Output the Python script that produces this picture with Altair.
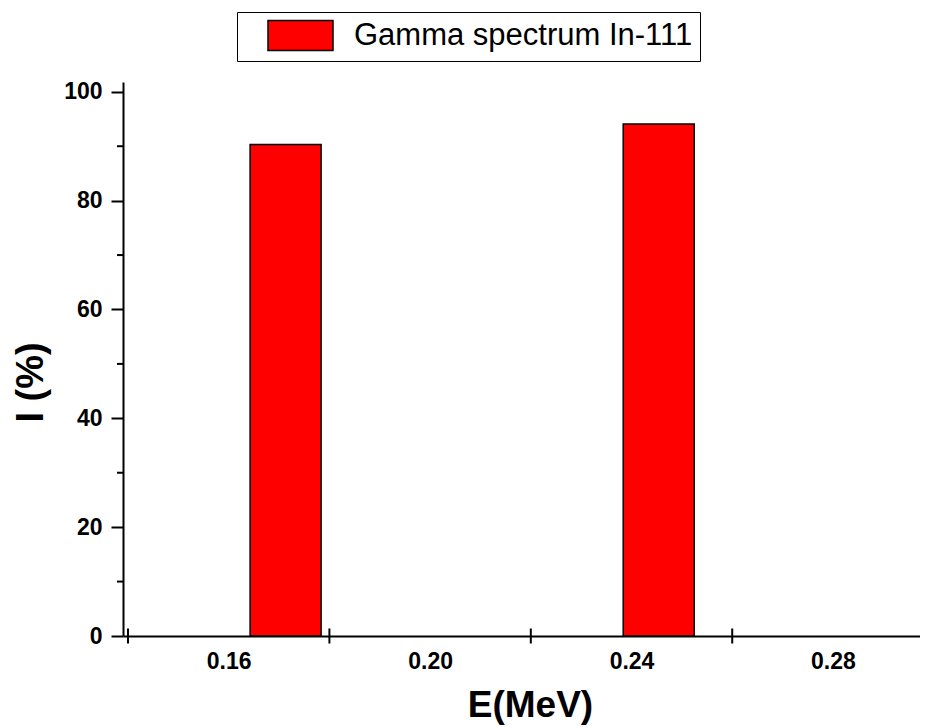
import altair as alt
import pandas as pd

# Data
energy_mev = [0.1713, 0.2454]
intensity_pct = [90.3, 94.1]
series_name = "Gamma spectrum In-111"

x_label_values = [0.16, 0.20, 0.24, 0.28]
x_minor_ticks = [0.14, 0.18, 0.22, 0.26]
y_label_values = [0, 20, 40, 60, 80, 100]
y_minor_ticks = [10, 30, 50, 70, 90]

bars = pd.DataFrame({"E": energy_mev, "I": intensity_pct, "series": [series_name] * len(energy_mev)})
xminor = pd.DataFrame({"E": x_minor_ticks})
yminor = pd.DataFrame({"I": y_minor_ticks})

FONT = "Liberation Sans"
W, H = 797, 554

xscale = alt.Scale(domain=[0.14, 0.2963], nice=False, zero=False)
yscale = alt.Scale(domain=[0, 101.8], nice=False)

swatch = "M-2.1667,-1L2.1667,-1L2.1667,1L-2.1667,1Z"

bar_layer = alt.Chart(bars).mark_bar(size=71, stroke="black", strokeWidth=1.5).encode(
    x=alt.X("E:Q", scale=xscale,
            axis=alt.Axis(values=x_label_values, format=".2f", title="E(MeV)",
                          ticks=False, tickSize=0, labelPadding=32, labelBaseline="alphabetic",
                          titleX=407, titleY=80, titleBaseline="alphabetic", titleAlign="center",
                          titleFontSize=37)),
    y=alt.Y("I:Q", scale=yscale,
            axis=alt.Axis(values=y_label_values, format="d", title="I (%)",
                          tickSize=12, labelPadding=9,
                          titleX=-81, titleY=300, titleBaseline="alphabetic", titleAlign="center",
                          titleAngle=270)),
    color=alt.Color("series:N", scale=alt.Scale(range=["#ff0000"]),
                    legend=alt.Legend(title=None, orient="none", legendX=114, legendY=-70,
                                      strokeColor="black", padding=7.5,
                                      symbolType=swatch, symbolSize=900,
                                      symbolStrokeColor="black", symbolStrokeWidth=1.5,
                                      symbolOffset=40, labelOffset=37.5,
                                      labelFont=FONT, labelFontSize=31, labelLimit=600,
                                      labelColor="black")),
)

xminor_layer = alt.Chart(xminor).mark_rule(color="black", strokeWidth=2).encode(
    x=alt.X("E:Q", scale=xscale),
    y=alt.value(H - 7.5),
    y2=alt.value(H + 7.5),
)

yminor_layer = alt.Chart(yminor).mark_rule(color="black", strokeWidth=2).encode(
    y=alt.Y("I:Q", scale=yscale),
    x=alt.value(-6),
    x2=alt.value(0),
)

chart = alt.layer(bar_layer, xminor_layer, yminor_layer).properties(
    width=W, height=H,
    autosize=alt.AutoSizeParams(type="none"),
    padding={"left": 115, "top": 74, "right": 0, "bottom": 90},
    background="white",
).configure_view(stroke=None).configure_axis(
    grid=False,
    domainColor="black", domainWidth=2,
    tickColor="black", tickWidth=2,
    labelFont=FONT, labelFontWeight="bold", labelFontSize=23, labelColor="black",
    titleFont=FONT, titleFontWeight="bold", titleFontSize=38, titleColor="black",
)

chart.save("out.html", embed_options={"renderer": "svg", "actions": False})
